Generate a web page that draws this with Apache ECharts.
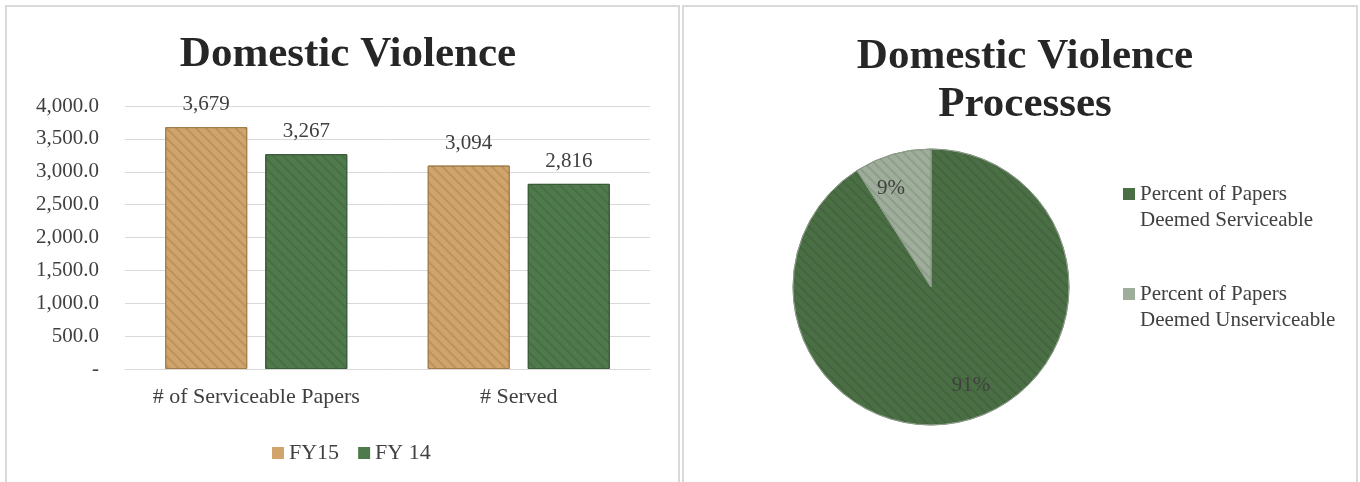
<!DOCTYPE html>
<html><head><meta charset="utf-8">
<script src="https://cdn.jsdelivr.net/npm/echarts@6/dist/echarts.min.js"></script>
<style>html,body{margin:0;padding:0;background:#fff}#c{width:1360px;height:482px}</style>
</head><body><div id="c"></div>
<script>
const categories = ['# of Serviceable Papers', '# Served'];
const fy15 = [3679, 3094];
const fy14 = [3267, 2816];
const yTicks = [0, 500, 1000, 1500, 2000, 2500, 3000, 3500, 4000];
const pieNames = ['Percent of Papers Deemed Serviceable', 'Percent of Papers Deemed Unserviceable'];
const pieValues = [91, 9];

const FONT = 'Liberation Serif';
const hatch = {symbol:'rect', symbolSize:1, dashArrayX:[1,0], dashArrayY:[2,5], rotation:Math.PI/4, color:'rgba(0,0,0,0.10)'};
const chart = echarts.init(document.getElementById('c'), null, {renderer:'canvas'});
const fmtNum = v => v === 0 ? '-' : v.toLocaleString('en-US',{minimumFractionDigits:1, maximumFractionDigits:1});
const pieColors = ['#4b6f45', '#9fae9b'];
const TXT = '#404040';

chart.setOption({
  animation:false,
  textStyle:{fontFamily:FONT},
  graphic:[
    {type:'rect', shape:{x:6,y:6,width:673,height:490}, style:{fill:'none', stroke:'#d9d9d9', lineWidth:2}, silent:true},
    {type:'rect', shape:{x:683,y:6,width:674,height:490}, style:{fill:'none', stroke:'#d9d9d9', lineWidth:2}, silent:true}
  ],
  title:[
    {text:'Domestic Violence', left:343, top:26, textAlign:'center',
     textStyle:{fontFamily:FONT, fontSize:43, fontWeight:'bold', color:'#262626', lineHeight:48}},
    {text:'Domestic Violence\nProcesses', left:1020, top:28, textAlign:'center',
     textStyle:{fontFamily:FONT, fontSize:43, fontWeight:'bold', color:'#262626', lineHeight:48}}
  ],
  legend:[
    {data:['FY15','FY 14'], left:267, top:437, orient:'horizontal', itemWidth:12, itemHeight:12, itemGap:19,
     icon:'rect', itemStyle:{borderWidth:0, decal:'none'}, textStyle:{fontFamily:FONT, fontSize:22, color:TXT}, selectedMode:false},
    {data:pieNames, left:1118, top:150, orient:'vertical', itemWidth:12, itemHeight:12, itemGap:22,
     icon:'rect', selectedMode:false, itemStyle:{borderWidth:0, decal:'none'},
     formatter: n => '\n' + n.replace(' Deemed', '\nDeemed'),
     textStyle:{fontFamily:FONT, fontSize:21, color:TXT, lineHeight:26}}
  ],
  grid:{left:125, right:710, top:106, bottom:113, containLabel:false},
  xAxis:{type:'category', data:categories,
    axisLine:{show:true, lineStyle:{color:'#d9d9d9'}}, axisTick:{show:false},
    axisLabel:{fontFamily:FONT, fontSize:22, color:TXT, margin:17, interval:0, hideOverlap:false}},
  yAxis:{type:'value', min:yTicks[0], max:yTicks[yTicks.length-1], interval:yTicks[1]-yTicks[0],
    axisLine:{show:false}, axisTick:{show:false},
    splitLine:{lineStyle:{color:'#d9d9d9', width:1}},
    axisLabel:{fontFamily:FONT, fontSize:21, color:TXT, margin:26, formatter: fmtNum}},
  series:[
    {name:'FY15', type:'bar', data:fy15, barWidth:82, barGap:'22%',
     itemStyle:{color:'#d0a46a', borderColor:'#a27d4a', borderWidth:1, decal:hatch},
     label:{show:true, position:'top', distance:12, fontFamily:FONT, fontSize:21, color:TXT,
       formatter: p => p.value.toLocaleString('en-US')}},
    {name:'FY 14', type:'bar', data:fy14, barWidth:82,
     itemStyle:{color:'#4f7a4c', borderColor:'#3a5c38', borderWidth:1, decal:hatch},
     label:{show:true, position:'top', distance:12, fontFamily:FONT, fontSize:21, color:TXT,
       formatter: p => p.value.toLocaleString('en-US')}},
    {name:'pie', type:'pie', center:[931,287], radius:138, startAngle:90, clockwise:true,
     data: pieNames.map((n,i)=>({name:n, value:pieValues[i], itemStyle:{color:pieColors[i]}})),
     itemStyle:{borderColor:'#8a9a86', borderWidth:1, decal:hatch},
     label:{show:false}, labelLine:{show:false}, emphasis:{disabled:true}},
    {name:'pieLabels', type:'pie', center:[931,287], radius:[68,138], startAngle:96, clockwise:true, silent:true,
     legendHoverLink:false,
     data: pieNames.map((n,i)=>({name:n, value:pieValues[i]})),
     itemStyle:{color:'rgba(0,0,0,0)'},
     label:{show:true, position:'inside', formatter: p => p.value + '%', fontFamily:FONT, fontSize:21, color:TXT},
     labelLine:{show:false}, emphasis:{disabled:true}}
  ]
});
</script></body></html>
